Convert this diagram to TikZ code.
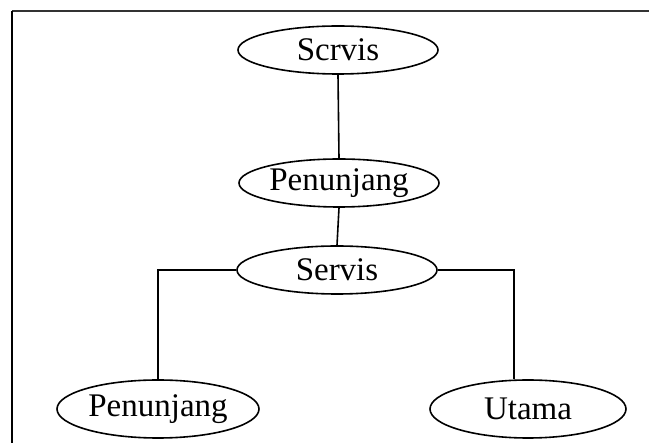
\documentclass[tikz,border=0pt]{standalone}
\usepackage{fontspec}
\setmainfont{Liberation Serif}
\usetikzlibrary{shapes.geometric}
\tikzset{
  ent/.style={draw, ellipse, line width=1.6pt, inner sep=0pt,
    minimum width=200pt, minimum height=48pt,
    font=\fontsize{33}{38}\selectfont},
  conn/.style={line width=1.6pt},
  frame/.style={line width=2pt}
}
\begin{document}
\begin{tikzpicture}[x=1pt,y=-1pt]
\useasboundingbox (0,0) rectangle (649,443);
% frame
\draw[frame, black!80] (12,11) -- (649,11);
\draw[frame] (12,11) -- (12,443);
% nodes
\node[ent] (s1) at (338,50) {Scrvis};
\node[ent] (p1) at (339,183) {Penunjang};
\node[ent] (s2) at (337,270) {Servis};
\node[ent, minimum height=58pt, minimum width=202pt] (p2) at (158,409) {Penunjang};
\node[ent, minimum height=58pt, minimum width=196pt] (u) at (528,409) {Utama};
% connectors
\draw[conn] (s1.south) -- (p1.north);
\draw[conn] (p1.south) -- (s2.north);
\draw[conn] (s2.west) -| (p2.north);
\draw[conn] (s2.east) -| ([xshift=-14pt]u.north);
\end{tikzpicture}
\end{document}
